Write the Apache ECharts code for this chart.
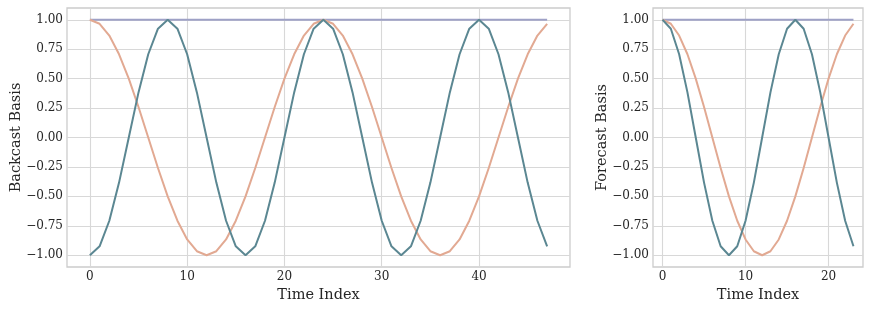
<!DOCTYPE html>
<html><head><meta charset="utf-8">
<script src="https://cdn.jsdelivr.net/npm/echarts@6/dist/echarts.min.js"></script>
<style>html,body{margin:0;padding:0;background:#fff}#c{width:872px;height:310px}</style>
</head><body><div id="c"></div>
<script>
// Time indices
const backcastT = [0,1,2,3,4,5,6,7,8,9,10,11,12,13,14,15,16,17,18,19,20,21,22,23,24,25,26,27,28,29,30,31,32,33,34,35,36,37,38,39,40,41,42,43,44,45,46,47];
const forecastT = [0,1,2,3,4,5,6,7,8,9,10,11,12,13,14,15,16,17,18,19,20,21,22,23];
// Backcast basis series
const backConst = [1,1,1,1,1,1,1,1,1,1,1,1,1,1,1,1,1,1,1,1,1,1,1,1,1,1,1,1,1,1,1,1,1,1,1,1,1,1,1,1,1,1,1,1,1,1,1,1];
const backSlow = [1,0.966,0.866,0.707,0.5,0.259,0,-0.259,-0.5,-0.707,-0.866,-0.966,-1,-0.966,-0.866,-0.707,-0.5,-0.259,0,0.259,0.5,0.707,0.866,0.966,
                  1,0.966,0.866,0.707,0.5,0.259,0,-0.259,-0.5,-0.707,-0.866,-0.966,-1,-0.966,-0.866,-0.707,-0.5,-0.259,0,0.259,0.5,0.707,0.866,0.966];
const backFast = [-1,-0.924,-0.707,-0.383,0,0.383,0.707,0.924,1,0.924,0.707,0.383,0,-0.383,-0.707,-0.924,
                  -1,-0.924,-0.707,-0.383,0,0.383,0.707,0.924,1,0.924,0.707,0.383,0,-0.383,-0.707,-0.924,
                  -1,-0.924,-0.707,-0.383,0,0.383,0.707,0.924,1,0.924,0.707,0.383,0,-0.383,-0.707,-0.924];
// Forecast basis series
const foreConst = [1,1,1,1,1,1,1,1,1,1,1,1,1,1,1,1,1,1,1,1,1,1,1,1];
const foreSlow = [1,0.966,0.866,0.707,0.5,0.259,0,-0.259,-0.5,-0.707,-0.866,-0.966,-1,-0.966,-0.866,-0.707,-0.5,-0.259,0,0.259,0.5,0.707,0.866,0.966];
const foreFast = [1,0.924,0.707,0.383,0,-0.383,-0.707,-0.924,-1,-0.924,-0.707,-0.383,0,0.383,0.707,0.924,1,0.924,0.707,0.383,0,-0.383,-0.707,-0.924];
// Tick labels
const backXTicks = [0,10,20,30,40];
const foreXTicks = [0,10,20];
const yTicks = [-1,-0.75,-0.5,-0.25,0,0.25,0.5,0.75,1];

const FONT = '"DejaVu Serif", serif';
const C_CONST = '#9ea1c6', C_SLOW = '#e2a992', C_FAST = '#5b8792';
const pair = (xs, ys) => xs.map((x, i) => [x, ys[i]]);
const fmtY = v => (v < 0 ? '\u2212' : '') + Math.abs(v).toFixed(2);

function xAxis(gi, min, max, ticks) {
  return {
    type: 'value', gridIndex: gi, min, max,
    name: 'Time Index', nameLocation: 'middle', nameGap: 21, nameMoveOverlap: false,
    nameTextStyle: { fontFamily: FONT, fontSize: 14.5, color: '#262626' },
    axisLine: { show: false }, axisTick: { show: false, customValues: ticks },
    axisLabel: { customValues: ticks, fontFamily: FONT, fontSize: 12, color: '#262626', margin: 4 },
    splitLine: { show: true, lineStyle: { color: '#d8d8d8', width: 1.1 } }
  };
}
function yAxis(gi, name) {
  return {
    type: 'value', gridIndex: gi, min: -1.1, max: 1.1,
    name, nameLocation: 'middle', nameGap: 43, nameMoveOverlap: false,
    nameTextStyle: { fontFamily: FONT, fontSize: 14.5, color: '#262626' },
    axisLine: { show: false }, axisTick: { show: false, customValues: yTicks },
    axisLabel: { customValues: yTicks, formatter: fmtY, fontFamily: FONT, fontSize: 12, color: '#262626', margin: 4 },
    splitLine: { show: true, lineStyle: { color: '#d8d8d8', width: 1.1 } }
  };
}
function line(xi, data, color, z) {
  return { type: 'line', xAxisIndex: xi, yAxisIndex: xi, data, showSymbol: false, symbol: 'none',
           lineStyle: { color, width: 2 }, z, animation: false };
}

const chart = echarts.init(document.getElementById('c'), null, { renderer: 'canvas' });
chart.setOption({
  animation: false,
  grid: [
    { left: 67, right: 302, top: 8, bottom: 43, containLabel: false, outerBoundsMode: 'none', show: true, borderColor: '#cccccc', borderWidth: 1.3, backgroundColor: '#fff' },
    { left: 653, right: 9, top: 8, bottom: 43, containLabel: false, outerBoundsMode: 'none', show: true, borderColor: '#cccccc', borderWidth: 1.3, backgroundColor: '#fff' }
  ],
  xAxis: [xAxis(0, -2.35, 49.35, backXTicks), xAxis(1, -1.15, 24.15, foreXTicks)],
  yAxis: [yAxis(0, 'Backcast Basis'), yAxis(1, 'Forecast Basis')],
  series: [
    line(0, pair(backcastT, backConst), C_CONST, 2),
    line(0, pair(backcastT, backSlow), C_SLOW, 3),
    line(0, pair(backcastT, backFast), C_FAST, 4),
    line(1, pair(forecastT, foreConst), C_CONST, 2),
    line(1, pair(forecastT, foreSlow), C_SLOW, 3),
    line(1, pair(forecastT, foreFast), C_FAST, 4)
  ]
});
</script></body></html>
